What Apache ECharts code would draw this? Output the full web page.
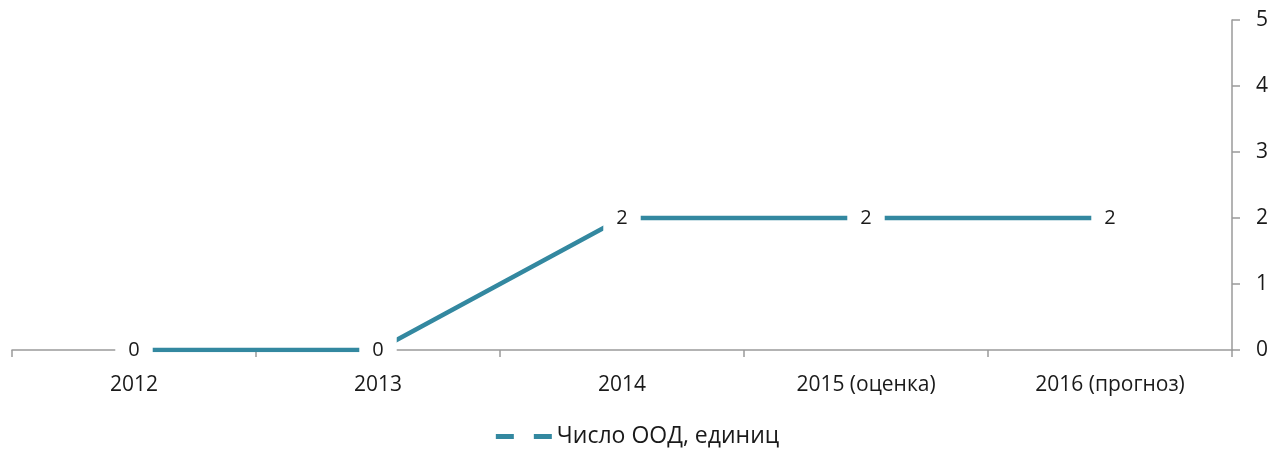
<!DOCTYPE html>
<html>
<head>
<meta charset="utf-8">
<script src="https://cdn.jsdelivr.net/npm/echarts@6/dist/echarts.min.js"></script>
<style>
  html, body { margin: 0; padding: 0; background: #fff; }
  #chart { width: 1275px; height: 455px; }
</style>
</head>
<body>
<div id="chart"></div>
<script>
const categories = ['2012', '2013', '2014', '2015 (оценка)', '2016 (прогноз)']
const oodValues = [0, 0, 2, 2, 2]
const yTicks = [0, 1, 2, 3, 4, 5]
const seriesName = 'Число ООД, единиц'

const lineColor = '#3388a0'
const textColor = '#1a1a1a'
const axisColor = '#9a9a9a'
const fontFamily = '"Open Sans", "Noto Sans", sans-serif'

const chart = echarts.init(document.getElementById('chart'))

chart.setOption({
  animation: false,
  textStyle: { fontFamily },
  grid: { left: 12, right: 43, top: 20, bottom: 105, containLabel: false },
  legend: {
    bottom: 2,
    left: 'center',
    itemWidth: 56,
    itemHeight: 5,
    itemGap: 10,
    icon: 'path://M0,0h18v5h-18z M38,0h18v5h-18z',
    textStyle: { color: textColor, fontSize: 23, fontFamily },
    data: [{ name: seriesName, itemStyle: { color: lineColor } }],
  },
  xAxis: {
    type: 'category',
    data: categories,
    boundaryGap: true,
    axisLine: { lineStyle: { color: axisColor, width: 1.5 } },
    axisTick: { show: true, length: 7, lineStyle: { color: axisColor, width: 1.5 } },
    axisLabel: { color: textColor, fontSize: 21, margin: 25, interval: 0 },
    splitLine: { show: false },
  },
  yAxis: {
    type: 'value',
    position: 'right',
    min: yTicks[0],
    max: yTicks[yTicks.length - 1],
    interval: 1,
    axisLine: { show: true, lineStyle: { color: axisColor, width: 1.5 } },
    axisTick: { show: true, length: 8, lineStyle: { color: axisColor, width: 1.5 } },
    axisLabel: { color: textColor, fontSize: 21, margin: 24 },
    splitLine: { show: false },
  },
  series: [
    {
      name: seriesName,
      type: 'line',
      data: oodValues,
      symbol: 'circle',
      symbolSize: 1,
      showSymbol: true,
      lineStyle: { color: lineColor, width: 4.5 },
      itemStyle: { color: lineColor },
      label: {
        show: true,
        position: 'inside',
        color: textColor,
        fontSize: 20,
        backgroundColor: '#fff',
        padding: [8, 13],
      },
    },
  ],
})
</script>
</body>
</html>
